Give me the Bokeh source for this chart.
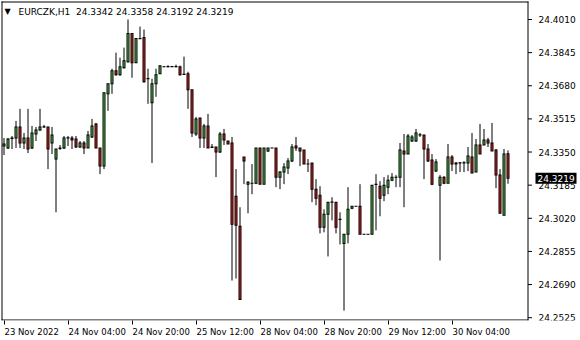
from bokeh.plotting import figure
from bokeh.models import Range1d, FixedTicker, Label, ColumnDataSource
from bokeh.embed import file_html
from bokeh.resources import INLINE

symbol = "EURCZK,H1"
header_values = ["24.3342", "24.3358", "24.3192", "24.3219"]
last_price = 24.3219

open_ = [24.3380, 24.3370, 24.3418, 24.3420, 24.3475, 24.3395, 24.3420, 24.3370, 24.3440, 24.3460,
         24.3475, 24.3475, 24.3395, 24.3315, 24.3368, 24.3370, 24.3420, 24.3420, 24.3415, 24.3375,
         24.3395, 24.3370, 24.3425, 24.3490, 24.3370, 24.3280, 24.3640, 24.3690, 24.3755, 24.3735,
         24.3770, 24.3800, 24.3940, 24.3795, 24.3914, 24.3920, 24.3715, 24.3595, 24.3690, 24.3740,
         24.3775, 24.3775, 24.3776, 24.3775, 24.3775, 24.3736, 24.3740, 24.3660, 24.3440, 24.3520,
         24.3420, 24.3480, 24.3373, 24.3375, 24.3350, 24.3440, 24.3405, 24.3395, 24.3130, 24.2980,
         24.3325, 24.3190, 24.3194, 24.3195, 24.3370, 24.3190, 24.3355, 24.3370, 24.3370, 24.3225,
         24.3250, 24.3270, 24.3305, 24.3380, 24.3370, 24.3360, 24.3290, 24.3295, 24.3165, 24.3135,
         24.2975, 24.3040, 24.3100, 24.3100, 24.3015, 24.2895, 24.2940, 24.3070, 24.3080, 24.3080,
         24.2940, 24.2940, 24.2940, 24.3188, 24.3180, 24.3135, 24.3175, 24.3210, 24.3224, 24.3225,
         24.3355, 24.3340, 24.3405, 24.3405, 24.3435, 24.3435, 24.3365, 24.3310, 24.3255, 24.3185,
         24.3225, 24.3195, 24.3325, 24.3290, 24.3295, 24.3296, 24.3295, 24.3325, 24.3250, 24.3385,
         24.3385, 24.3410, 24.3395, 24.3360, 24.3235, 24.3035, 24.3342]
high = [24.3420, 24.3420, 24.3430, 24.3505, 24.3565, 24.3445, 24.3565, 24.3480, 24.3475, 24.3565,
        24.3485, 24.3475, 24.3475, 24.3365, 24.3385, 24.3430, 24.3430, 24.3430, 24.3430, 24.3405,
        24.3405, 24.3455, 24.3515, 24.3495, 24.3370, 24.3645, 24.3690, 24.3765, 24.3845, 24.3820,
        24.3870, 24.4010, 24.3940, 24.3915, 24.3975, 24.3960, 24.3765, 24.3715, 24.3765, 24.3780,
        24.3778, 24.3782, 24.3778, 24.3785, 24.3780, 24.3825, 24.3750, 24.3660, 24.3525, 24.3520,
        24.3490, 24.3540, 24.3390, 24.3375, 24.3450, 24.3465, 24.3405, 24.3425, 24.3265, 24.3075,
        24.3325, 24.3205, 24.3290, 24.3370, 24.3370, 24.3370, 24.3370, 24.3371, 24.3370, 24.3255,
        24.3295, 24.3320, 24.3390, 24.3425, 24.3370, 24.3360, 24.3315, 24.3295, 24.3215, 24.3180,
        24.3065, 24.3100, 24.3125, 24.3100, 24.3050, 24.2940, 24.3175, 24.3080, 24.3081, 24.3190,
        24.2941, 24.2941, 24.3185, 24.3240, 24.3205, 24.3225, 24.3235, 24.3245, 24.3235, 24.3395,
        24.3440, 24.3440, 24.3435, 24.3465, 24.3445, 24.3435, 24.3390, 24.3340, 24.3315, 24.3235,
        24.3230, 24.3390, 24.3335, 24.3300, 24.3300, 24.3305, 24.3375, 24.3445, 24.3415, 24.3490,
        24.3465, 24.3420, 24.3495, 24.3365, 24.3265, 24.3365, 24.3358]
low = [24.3335, 24.3365, 24.3365, 24.3370, 24.3370, 24.3365, 24.3345, 24.3365, 24.3405, 24.3455,
       24.3470, 24.3265, 24.3340, 24.3050, 24.3360, 24.3365, 24.3380, 24.3365, 24.3370, 24.3370,
       24.3340, 24.3370, 24.3420, 24.3370, 24.3240, 24.3265, 24.3555, 24.3640, 24.3730, 24.3730,
       24.3765, 24.3795, 24.3720, 24.3795, 24.3914, 24.3695, 24.3590, 24.3295, 24.3625, 24.3740,
       24.3773, 24.3772, 24.3773, 24.3772, 24.3730, 24.3735, 24.3565, 24.3425, 24.3430, 24.3370,
       24.3370, 24.3370, 24.3370, 24.3225, 24.3345, 24.3385, 24.3390, 24.2710, 24.2720, 24.2615,
       24.3190, 24.3045, 24.3140, 24.3190, 24.3190, 24.3190, 24.3350, 24.3369, 24.3175, 24.3165,
       24.3190, 24.3240, 24.3300, 24.3355, 24.3280, 24.3290, 24.3250, 24.3100, 24.3085, 24.2945,
       24.2950, 24.2830, 24.3010, 24.2945, 24.2890, 24.2560, 24.2895, 24.3065, 24.3079, 24.2940,
       24.2939, 24.2939, 24.2940, 24.2960, 24.3030, 24.3105, 24.3140, 24.3205, 24.3175, 24.3175,
       24.3075, 24.3340, 24.3400, 24.3400, 24.3425, 24.3215, 24.3300, 24.3185, 24.3250, 24.2810,
       24.3190, 24.3195, 24.3255, 24.3240, 24.3250, 24.3250, 24.3255, 24.3245, 24.3250, 24.3340,
       24.3385, 24.3375, 24.3355, 24.3170, 24.3045, 24.3035, 24.3192]
close = [24.3390, 24.3415, 24.3420, 24.3475, 24.3395, 24.3420, 24.3365, 24.3445, 24.3460, 24.3475,
         24.3476, 24.3365, 24.3435, 24.3365, 24.3370, 24.3420, 24.3421, 24.3410, 24.3375, 24.3395,
         24.3370, 24.3435, 24.3480, 24.3370, 24.3280, 24.3645, 24.3690, 24.3755, 24.3735, 24.3775,
         24.3805, 24.3940, 24.3795, 24.3915, 24.3915, 24.3700, 24.3716, 24.3690, 24.3735, 24.3780,
         24.3775, 24.3776, 24.3775, 24.3776, 24.3735, 24.3737, 24.3660, 24.3445, 24.3515, 24.3420,
         24.3480, 24.3370, 24.3375, 24.3350, 24.3440, 24.3410, 24.3390, 24.2990, 24.2985, 24.2615,
         24.3305, 24.3200, 24.3195, 24.3370, 24.3190, 24.3370, 24.3370, 24.3370, 24.3225, 24.3250,
         24.3275, 24.3305, 24.3375, 24.3370, 24.3355, 24.3290, 24.3291, 24.3165, 24.3120, 24.2975,
         24.3040, 24.3100, 24.3101, 24.2975, 24.3014, 24.2940, 24.3065, 24.3080, 24.3080, 24.2940,
         24.2940, 24.2940, 24.3185, 24.3190, 24.3120, 24.3185, 24.3210, 24.3225, 24.3225, 24.3360,
         24.3340, 24.3430, 24.3425, 24.3445, 24.3436, 24.3365, 24.3305, 24.3190, 24.3300, 24.3225,
         24.3195, 24.3325, 24.3290, 24.3295, 24.3296, 24.3295, 24.3330, 24.3245, 24.3385, 24.3340,
         24.3410, 24.3395, 24.3355, 24.3235, 24.3045, 24.3340, 24.3219]

date_ticks = [0, 16, 32, 48, 64, 80, 96, 112]
date_labels = ["23 Nov 2022", "24 Nov 04:00", "24 Nov 20:00", "25 Nov 12:00",
               "28 Nov 04:00", "28 Nov 20:00", "29 Nov 12:00", "30 Nov 04:00"]
price_ticks = [24.2525, 24.2690, 24.2855, 24.3020, 24.3185,
               24.3350, 24.3515, 24.3680, 24.3845, 24.4010]

# ---- styling / layout constants ----
GREEN = "#46cc46"
RED = "#ee1c1c"
FONT = "DejaVu Sans"
FS = 9       # px, price scale + header
FS_DATE = 8.5
W, H = 580, 340
BOTTOM_PANEL = 20
PX_PER_BAR = 4
X0 = -0.875          # data x at page x = 0 (bar i centred at 3.5 + 4 i px)
K = 0.000498         # price per pixel
TOP_TICK_PX = 19     # page y of the top price tick
Y0 = price_ticks[-1] + TOP_TICK_PX * K   # price at page y = 0
CHART_RIGHT = 527.5
CHART_BOTTOM = 319.5


def x_of(px):
    return X0 + px / PX_PER_BAR


def y_of(py):
    return Y0 - py * K


# DejaVu Sans advance widths (em) for label width estimation
ADV = {" ": 0.318, ":": 0.337, "N": 0.748, "o": 0.612, "v": 0.592, ".": 0.318}


def text_px(s, fs):
    return sum(ADV.get(ch, 0.636) for ch in s) * fs


idx = list(range(len(open_)))
tops = [max(a, b) for a, b in zip(open_, close)]
bots = [min(a, b) for a, b in zip(open_, close)]
cols = [GREEN if b >= a else RED for a, b in zip(open_, close)]
src = ColumnDataSource(dict(
    x=idx, h=high, l=low,
    otop=[t + 0.5 * K for t in tops], obot=[b - 0.5 * K for b in bots],
))
inner = [(i, t - 0.5 * K, b + 0.5 * K, c) for i, t, b, c in zip(idx, tops, bots, cols) if t - b > K]
src_in = ColumnDataSource(dict(
    x=[r[0] for r in inner], top=[r[1] for r in inner],
    bottom=[r[2] for r in inner], color=[r[3] for r in inner],
))

p = figure(width=W, height=H, output_backend="svg", toolbar_location=None,
           x_range=Range1d(x_of(0), x_of(W)), y_range=Range1d(y_of(H - BOTTOM_PANEL), y_of(0)),
           y_axis_location=None,
           min_border_left=0, min_border_top=0, min_border_right=0, min_border_bottom=BOTTOM_PANEL)
p.xgrid.visible = False
p.ygrid.visible = False
p.outline_line_color = None
p.background_fill_color = "white"
p.border_fill_color = "white"

# chart border
bx0, bx1 = x_of(1.0), x_of(CHART_RIGHT + 0.5)
by0, by1 = y_of(1.0), y_of(CHART_BOTTOM + 0.5)
p.segment(x0=[bx0, bx0, x_of(1.5), x_of(CHART_RIGHT)],
          y0=[y_of(1.5), y_of(CHART_BOTTOM), by0, by0],
          x1=[bx1, bx1, x_of(1.5), x_of(CHART_RIGHT)],
          y1=[y_of(1.5), y_of(CHART_BOTTOM), by1, by1],
          line_color="black", line_width=1)

# candles: wick, black body frame, coloured body core
p.segment(x0="x", y0="l", x1="x", y1="h", source=src, line_color="black", line_width=1)
p.vbar(x="x", width=0.75, top="otop", bottom="obot", source=src,
       fill_color="black", line_color=None)
p.vbar(x="x", width=0.25, top="top", bottom="bottom", source=src_in,
       fill_color="color", line_color=None)

# price scale (right)
n = len(price_ticks)
p.segment(x0=[x_of(CHART_RIGHT)] * n, x1=[x_of(CHART_RIGHT + 4)] * n,
          y0=price_ticks, y1=price_ticks, line_color="black", line_width=1)
p.text(x=[x_of(538)] * n, y=price_ticks, text=["%.4f" % v for v in price_ticks],
       text_align="left", text_baseline="middle", text_font={"value": FONT},
       text_font_size={"value": "%dpx" % FS}, text_color="black")

# current price marker
half_h = 5.5 * K
p.quad(left=[x_of(535)], right=[x_of(576)], top=[last_price + half_h], bottom=[last_price - half_h],
       fill_color="black", line_color=None)
p.text(x=[x_of(537)], y=[last_price], text=["%.4f" % last_price],
       text_align="left", text_baseline="middle", text_font={"value": FONT},
       text_font_size={"value": "%dpx" % FS}, text_color="white")

# time axis: minor ticks mark the bars, major (invisible) ticks carry left-aligned labels
label_pos = [t + (text_px(s, FS_DATE) / 2 + 0.5) / PX_PER_BAR for t, s in zip(date_ticks, date_labels)]
xa = p.xaxis[0]
xa.ticker = FixedTicker(ticks=label_pos, minor_ticks=date_ticks)
xa.major_label_overrides = {pos: s for pos, s in zip(label_pos, date_labels)}
xa.axis_line_color = None
xa.major_tick_line_color = None
xa.major_tick_out = 0
xa.major_tick_in = 0
xa.minor_tick_line_color = "black"
xa.minor_tick_out = 4
xa.minor_tick_in = 0
xa.major_label_standoff = 2
xa.major_label_text_font = FONT
xa.major_label_text_font_size = "%spx" % FS_DATE
xa.major_label_text_color = "black"

# header
p.add_layout(Label(x=4, y=H - BOTTOM_PANEL - 11, x_units="screen", y_units="screen", text="\u25bc",
                   text_align="left", text_baseline="middle",
                   text_font=FONT, text_font_size="8px", text_color="black"))
p.add_layout(Label(x=18, y=H - BOTTOM_PANEL - 11, x_units="screen", y_units="screen",
                   text=symbol + "\u00a0\u00a0" + " ".join(header_values),
                   text_align="left", text_baseline="middle",
                   text_font=FONT, text_font_size="%dpx" % FS, text_color="black"))

open("out.html", "w").write(file_html(p, INLINE))
